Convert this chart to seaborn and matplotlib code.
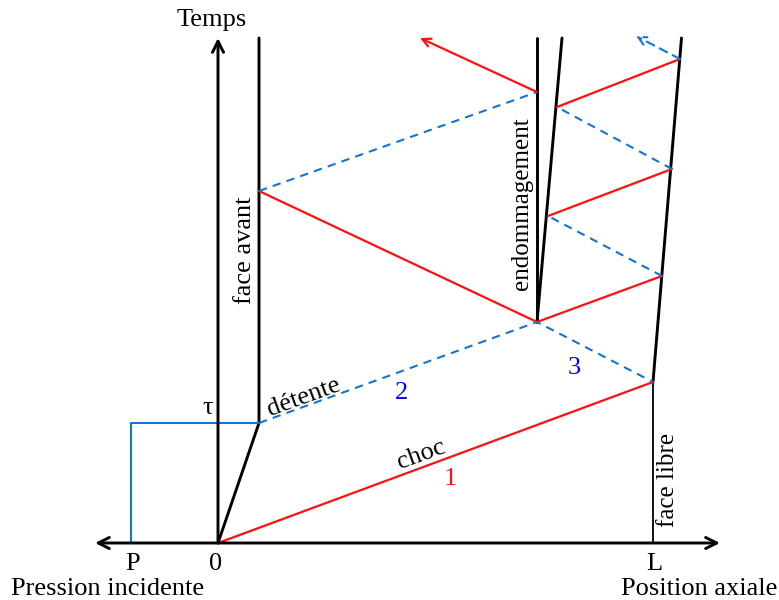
import matplotlib
matplotlib.use("Agg")
import matplotlib.pyplot as plt
import seaborn as sns
import pandas as pd

sns.set_theme(style="white")
plt.rcParams['font.family'] = ['Liberation Serif', 'DejaVu Serif']
plt.rcParams['text.color'] = 'black'

# ---- diagram geometry (pixel coordinates of the reference, y downwards) ----
black_thick = [
    [(259, 38), (259, 423), (218, 543)],          # face avant
    [(537, 38), (537, 322)],                      # endommagement (vertical)
    [(537, 322), (562, 38)],                      # endommagement (slanted)
    [(653, 382), (681.5, 38)],                    # face libre (moving)
]
black_thin = [
    [(653, 543), (653, 382)],                     # face libre (at rest)
]
red_solid = [
    [(218, 543), (653, 382)],
    [(537, 322), (259, 191)],
    [(537, 322), (662, 276)],
    [(548, 216), (672, 169)],
    [(557, 107), (680, 59)],
]
blue_dashed = [
    [(259, 423), (537, 322), (653, 382)],
    [(259, 191), (537, 92)],
    [(662, 276), (548, 216)],
    [(672, 169), (557, 107)],
]
blue_step = [
    [(131, 543), (131, 423), (259, 423)],
]
red_arrow = [(537, 92), (420, 38)]
blue_arrow = [(680, 59), (636, 36)]
x_axis = [(95, 543), (720, 543)]
t_axis = [(218, 543), (218, 38)]

tick_labels = ["P", "0", "L"]
tick_pos = [133, 216, 654]

RED = "#ff1010"
BLUE = "#1474d4"


def to_df(segs):
    rows = []
    for i, s in enumerate(segs):
        for j, (x, y) in enumerate(s):
            rows.append({"seg": i, "order": j, "x": x, "y": y})
    return pd.DataFrame(rows)


fig = plt.figure(figsize=(7.79, 6.0), dpi=100)
ax = fig.add_axes([0, 0, 1, 1])
ax.set_xlim(0, 779)
ax.set_ylim(600, 0)
ax.axis("off")

kw = dict(x="x", y="y", units="seg", estimator=None, sort=False, ax=ax, legend=False)
sns.lineplot(data=to_df(black_thick), color="black", lw=2.1, **kw)
sns.lineplot(data=to_df(black_thin), color="black", lw=1.3, **kw)
sns.lineplot(data=to_df(red_solid), color=RED, lw=1.6, **kw)
sns.lineplot(data=to_df(blue_step), color=BLUE, lw=1.5, **kw)
sns.lineplot(data=to_df(blue_dashed), color=BLUE, lw=1.5, **kw)
for line in ax.lines[-len(blue_dashed):]:
    line.set_linestyle((0, (4, 3)))

# axes arrows
ax.annotate("", xy=x_axis[1], xytext=x_axis[0],
            arrowprops=dict(arrowstyle="<->", color="black", lw=2.1,
                            mutation_scale=20, shrinkA=0, shrinkB=0))
ax.annotate("", xy=t_axis[1], xytext=t_axis[0],
            arrowprops=dict(arrowstyle="->", color="black", lw=2.1,
                            mutation_scale=20, shrinkA=0, shrinkB=0))
ax.annotate("", xy=red_arrow[1], xytext=red_arrow[0],
            arrowprops=dict(arrowstyle="->", color=RED, lw=1.6,
                            mutation_scale=15, shrinkA=0, shrinkB=0))
ax.annotate("", xy=blue_arrow[1], xytext=blue_arrow[0],
            arrowprops=dict(arrowstyle="->", color=BLUE, lw=1.5, ls=(0, (4, 3)),
                            mutation_scale=15, shrinkA=0, shrinkB=0))

FS = 19
for lab, xp in zip(tick_labels, tick_pos):
    ax.text(xp, 564, lab, ha="center", va="center", fontsize=FS)
ax.text(212, 20, "Temps", ha="center", va="center", fontsize=FS)
ax.text(11, 589, "Pression incidente", ha="left", va="center", fontsize=FS)
ax.text(777, 589, "Position axiale", ha="right", va="center", fontsize=FS)
ax.text(208, 408, "τ", ha="center", va="center", fontsize=FS)
ax.text(245, 250, "face avant", ha="center", va="center", rotation=90, fontsize=FS)
ax.text(522, 204, "endommagement", ha="center", va="center", rotation=90, fontsize=18)
ax.text(668, 480, "face libre", ha="center", va="center", rotation=90, fontsize=18)
ax.text(304, 397, "détente", ha="center", va="center", rotation=20, fontsize=FS)
ax.text(421, 455, "choc", ha="center", va="center", rotation=20, fontsize=FS)
ax.text(402, 393, "2", ha="center", va="center", color="blue", fontsize=FS)
ax.text(574, 368, "3", ha="center", va="center", color="blue", fontsize=FS)
ax.text(450, 479, "1", ha="center", va="center", color=RED, fontsize=FS)

fig.savefig("out.png", dpi=100)
